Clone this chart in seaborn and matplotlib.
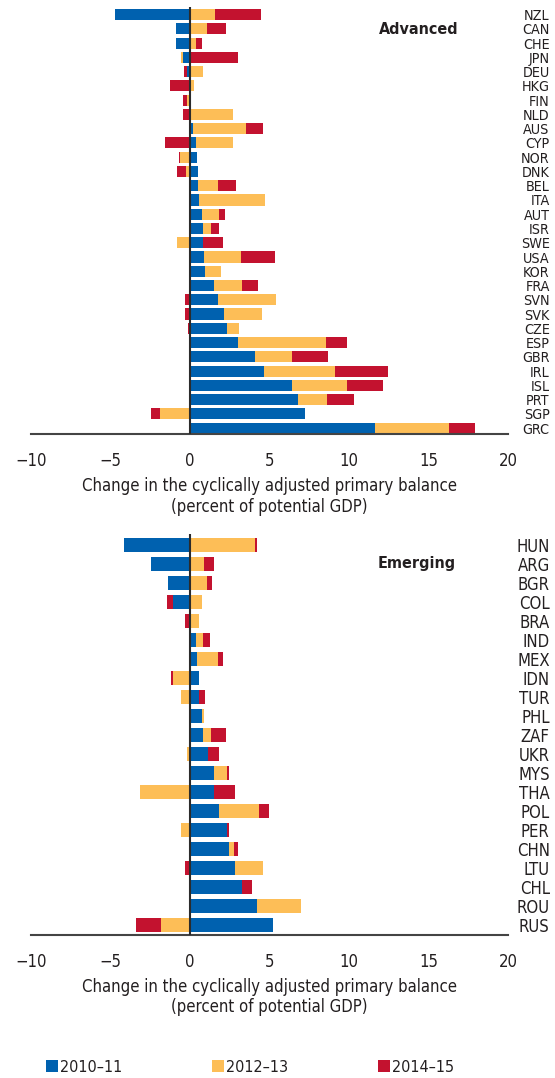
import matplotlib
matplotlib.use("Agg")
import matplotlib.pyplot as plt
import seaborn as sns
import numpy as np
from matplotlib.patches import Patch

# ---------------- data ----------------
periods = ["2010\u201311", "2012\u201313", "2014\u201315"]
colors = ["#0061AF", "#FDBE57", "#C3122F"]

adv_countries = ["NZL", "CAN", "CHE", "JPN", "DEU", "HKG", "FIN", "NLD", "AUS", "CYP",
                 "NOR", "DNK", "BEL", "ITA", "AUT", "ISR", "SWE", "USA", "KOR", "FRA",
                 "SVN", "SVK", "CZE", "ESP", "GBR", "IRL", "ISL", "PRT", "SGP", "GRC"]
adv_2010_11 = [-4.70, -0.90, -0.85, -0.45, -0.20, -0.05, 0.00, 0.00, 0.17, 0.35,
               0.42, 0.48, 0.48, 0.55, 0.74, 0.80, 0.80, 0.86, 0.92, 1.49,
               1.74, 2.12, 2.31, 3.00, 4.08, 4.64, 6.40, 6.79, 7.23, 11.64]
adv_2012_13 = [1.55, 1.10, 0.35, -0.13, 0.80, 0.23, -0.20, 2.70, 3.35, 2.35,
               -0.65, -0.27, 1.26, 4.16, 1.07, 0.50, -0.84, 2.33, 1.00, 1.76,
               3.66, 2.40, 0.76, 5.55, 2.33, 4.47, 3.47, 1.83, -1.91, 4.66]
adv_2014_15 = [2.90, 1.15, 0.40, 3.00, -0.20, -1.20, -0.25, -0.45, 1.07, -1.55,
               -0.06, -0.57, 1.13, 0.00, 0.38, 0.50, 1.26, 2.14, 0.00, 1.00,
               -0.34, -0.34, -0.15, 1.32, 2.27, 3.34, 2.27, 1.70, -0.57, 1.64]

em_countries = ["HUN", "ARG", "BGR", "COL", "BRA", "IND", "MEX", "IDN", "TUR", "PHL",
                "ZAF", "UKR", "MYS", "THA", "POL", "PER", "CHN", "LTU", "CHL", "ROU", "RUS"]
em_2010_11 = [-4.18, -2.48, -1.41, -1.09, 0.00, 0.36, 0.42, 0.55, 0.59, 0.74,
              0.80, 1.11, 1.49, 1.49, 1.81, 2.31, 2.44, 2.82, 3.26, 4.20, 5.21]
em_2012_13 = [4.08, 0.86, 1.05, 0.74, 0.55, 0.44, 1.32, -1.09, -0.59, 0.13,
              0.50, -0.21, 0.82, -3.17, 2.52, -0.59, 0.32, 1.76, -0.06, 2.77, -1.85]
em_2014_15 = [0.13, 0.63, 0.32, -0.38, -0.34, 0.44, 0.32, -0.13, 0.34, -0.08,
              0.95, 0.69, 0.13, 1.32, 0.63, 0.13, 0.25, -0.34, 0.63, 0.00, -1.57]

x_ticks = [-10, -5, 0, 5, 10, 15, 20]
x_label = "Change in the cyclically adjusted primary balance\n(percent of potential GDP)"

# ---------------- style ----------------
sns.set_style("white")
plt.rcParams["font.family"] = ["DejaVu Sans"]
plt.rcParams["font.stretch"] = "condensed"
TXT = "#231F20"
plt.rcParams["text.color"] = TXT
plt.rcParams["xtick.color"] = TXT
plt.rcParams["ytick.color"] = TXT
plt.rcParams["axes.labelcolor"] = TXT

fig = plt.figure(figsize=(5.55, 10.78), dpi=100)
W, H = 555, 1078
ax1 = fig.add_axes([31 / W, 1 - 434 / H, 477 / W, 427 / H])
ax2 = fig.add_axes([31 / W, 1 - 934.5 / H, 477 / W, 400.5 / H])


def draw(ax, countries, series, bar_w, top_pad, bot_pad, ylab_size):
    vals = np.array(series, dtype=float)
    pos = np.clip(vals, 0, None).cumsum(axis=0)
    neg = np.clip(vals, None, 0).cumsum(axis=0)
    for k in [2, 1, 0]:
        for cum in (pos, neg):
            sns.barplot(x=cum[k], y=countries, orient="h", color=colors[k],
                        saturation=1, width=bar_w, errorbar=None, ax=ax,
                        linewidth=0, zorder=2)
    n = len(countries)
    ax.set_xlim(-10, 20)
    ax.set_ylim(n - 1 + bot_pad, -top_pad)
    ax.axvline(0, color="#2b2b2b", lw=1.5, zorder=5)
    for s in ["top", "left", "right"]:
        ax.spines[s].set_visible(False)
    ax.spines["bottom"].set_color("#444444")
    ax.spines["bottom"].set_linewidth(1.5)
    ax.set_xticks(x_ticks)
    ax.tick_params(axis="x", direction="in", length=5, width=1.5,
                   color="#444444", pad=13, labelsize=12)
    ax.yaxis.tick_right()
    ax.set_yticks(range(n))
    ax.set_yticklabels(countries, ha="right")
    ax.tick_params(axis="y", length=0, pad=30, labelsize=ylab_size)
    ax.set_ylabel("")
    ax.set_xlabel(x_label, fontsize=12, labelpad=5, linespacing=1.2)


draw(ax1, adv_countries, [adv_2010_11, adv_2012_13, adv_2014_15], 0.78, 0.53, 0.41, 10.3)
draw(ax2, em_countries, [em_2010_11, em_2012_13, em_2014_15], 0.74, 0.58, 0.5, 12)

fig.text(419 / W, 1 - 30 / H, "Advanced", ha="center", va="center",
         fontsize=11.5, fontweight="bold")
fig.text(417 / W, 1 - 563 / H, "Emerging", ha="center", va="center",
         fontsize=11.5, fontweight="bold")

handles = [Patch(facecolor=c, edgecolor="none") for c in colors]
fig.legend(handles, periods, ncol=3, loc="center left",
           bbox_to_anchor=(46 / W, 1 - 1067 / H), frameon=False,
           handlelength=0.75, handleheight=0.75, handletextpad=0.15,
           columnspacing=5.6, borderaxespad=0, borderpad=0, fontsize=11.5)

fig.savefig("out.png", dpi=100)
